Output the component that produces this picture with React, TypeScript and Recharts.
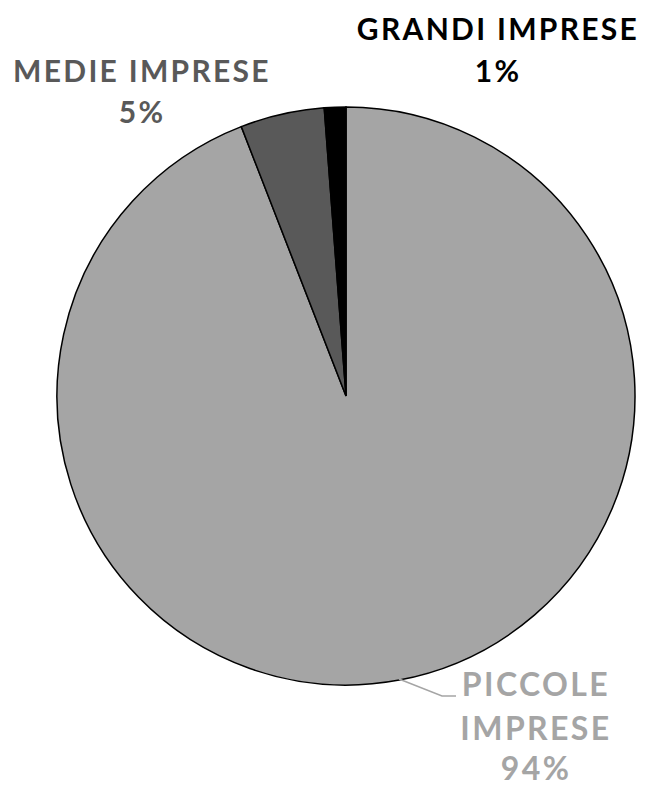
import React from "react";
import { PieChart, Pie, Cell } from "recharts";

const categories = ["PICCOLE IMPRESE", "MEDIE IMPRESE", "GRANDI IMPRESE"];
const shares = [94.1, 4.7, 1.2];
const fills = ["#A5A5A5", "#595959", "#000000"];
const labelColors = ["#A5A5A5", "#595959", "#000000"];

const data = categories.map((name, i) => ({ name, value: shares[i] }));

const FONT = "'Century Gothic', Lato, 'Open Sans', sans-serif";

const renderLabel = (props: any) => {
  const { cx, cy, index, name, value } = props;
  const pct = `${Math.round(value)}%`;
  const color = labelColors[index];
  const common = {
    fill: color,
    fontFamily: FONT,
    fontWeight: 700,
    fontSize: 30,
    letterSpacing: 2.3,
    textAnchor: "middle" as const,
  };
  if (index === 0) {
    const x = cx + 190;
    const words = name.split(" ");
    const big = { ...common, fontSize: 32, letterSpacing: 2.4 };
    return (
      <g key={`l${index}`}>
        <text {...big} x={x} y={cy + 300}>{words[0]}</text>
        <text {...big} x={x} y={cy + 344}>{words[1]}</text>
        <text {...big} x={x} y={cy + 384}>{pct}</text>
      </g>
    );
  }
  if (index === 1) {
    const x = cx - 204;
    return (
      <g key={`l${index}`}>
        <text {...common} x={x} y={cy - 314}>{name}</text>
        <text {...common} x={x} y={cy - 273}>{pct}</text>
      </g>
    );
  }
  const x = cx + 152;
  return (
    <g key={`l${index}`}>
      <text {...common} x={x} y={cy - 356}>{name}</text>
      <text {...common} x={x} y={cy - 314}>{pct}</text>
    </g>
  );
};

const renderLabelLine = (props: any) => {
  const { cx, cy, index } = props;
  if (index !== 0) return <g key={`ll${index}`} />;
  return (
    <polyline
      key={`ll${index}`}
      points={`${cx + 53},${cy + 283} ${cx + 96},${cy + 300} ${cx + 110},${cy + 300}`}
      fill="none"
      stroke="#A5A5A5"
      strokeWidth={1.5}
    />
  );
};

export default function App() {
  return (
    <div style={{ position: "absolute", left: 0, top: 0, width: 649, height: 787, background: "#fff" }}>
      <style>{`.recharts-pie-sectors { filter: drop-shadow(0px 0px 6px rgba(0,0,0,0.35)); }`}</style>
      <PieChart width={649} height={787} margin={{ top: 0, right: 0, bottom: 0, left: 0 }}>
        <Pie
          data={data}
          dataKey="value"
          nameKey="name"
          cx={346}
          cy={396}
          outerRadius={289}
          startAngle={90}
          endAngle={-270}
          stroke="#000"
          strokeWidth={1.5}
          isAnimationActive={false}
          label={renderLabel}
          labelLine={renderLabelLine}
        >
          {data.map((d, i) => (
            <Cell key={d.name} fill={fills[i]} />
          ))}
        </Pie>
      </PieChart>
    </div>
  );
}
